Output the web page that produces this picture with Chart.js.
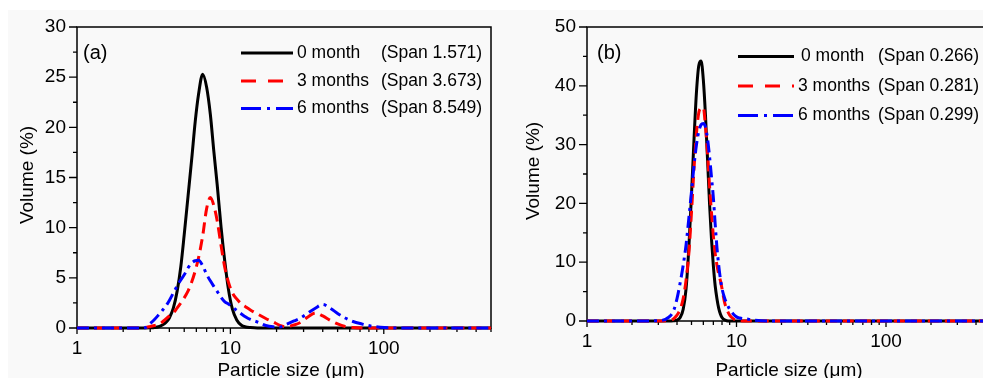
<!DOCTYPE html>
<html>
<head>
<meta charset="utf-8">
<script src="https://cdn.jsdelivr.net/npm/chart.js@4.4.1/dist/chart.umd.min.js"></script>
<style>
  html, body { margin: 0; padding: 0; background: #fff; overflow: hidden; }
  #sheet { position: absolute; left: 8px; top: 10px; width: 1000px; height: 400px; background: #f9f9f9; }
  canvas { position: absolute; top: 0; }
  #chartA { left: 0; }
  #chartB { left: 500px; }
</style>
</head>
<body>
<div id="sheet"></div>
<canvas id="chartA" width="500" height="378"></canvas>
<canvas id="chartB" width="520" height="378"></canvas>
<script>
// particle size distributions, volume % vs size (um)
const sizesA = [1, 2, 2.5, 2.8, 3.0, 3.2, 3.4, 3.6, 3.8, 4.0, 4.25, 4.5, 4.75, 5.0, 5.3, 5.6, 5.9, 6.2, 6.6, 7.0, 7.4, 7.8, 8.2, 8.7, 9.2, 9.7, 10.3, 11, 11.8, 12.6, 13.5, 15, 17, 19, 21, 23, 26, 29, 32, 36, 40, 45, 50, 56, 63, 72, 82, 95, 110, 150, 500];
const month0A = [0, 0, 0, 0, 0.02, 0.05, 0.12, 0.3, 0.55, 1.0, 2.0, 3.7, 6.1, 9.3, 13.2, 16.9, 20.6, 23.3, 25.3, 24.0, 21.3, 17.6, 14.3, 10.0, 6.6, 3.9, 1.9, 0.8, 0.27, 0.1, 0.04, 0, 0, 0, 0, 0, 0, 0, 0, 0, 0, 0, 0, 0, 0, 0, 0, 0, 0, 0, 0];
const month3A = [0, 0, 0, 0.05, 0.15, 0.25, 0.35, 0.6, 0.9, 1.2, 1.5, 2.0, 2.5, 3.0, 3.7, 4.6, 5.7, 7.0, 9.2, 11.9, 13.0, 12.2, 10.7, 8.2, 6.0, 4.6, 3.5, 2.9, 2.4, 2.1, 1.8, 1.4, 0.95, 0.6, 0.27, 0.12, 0.3, 0.6, 1.1, 1.5, 1.2, 0.75, 0.4, 0.15, 0.05, 0, 0, 0, 0, 0, 0];
const month6A = [0, 0, 0, 0.05, 0.45, 0.85, 1.3, 1.75, 2.2, 2.75, 3.5, 4.2, 4.8, 5.3, 6.0, 6.5, 6.7, 6.75, 6.2, 5.35, 4.7, 4.15, 3.65, 3.05, 2.6, 2.4, 2.1, 1.75, 1.4, 1.1, 0.85, 0.6, 0.25, 0.12, 0.1, 0.35, 0.7, 1.05, 1.5, 2.0, 2.35, 1.95, 1.45, 1.0, 0.65, 0.4, 0.2, 0.08, 0.02, 0, 0];

const sizesB = [1, 2, 3, 3.5, 3.8, 4.0, 4.2, 4.4, 4.6, 4.8, 5.0, 5.2, 5.4, 5.6, 5.8, 6.0, 6.2, 6.4, 6.6, 6.8, 7.0, 7.2, 7.4, 7.6, 7.8, 8.0, 8.3, 8.6, 9.0, 9.5, 10, 10.5, 11, 12, 13, 16, 500];
const month0B = [0, 0, 0, 0, 0.05, 0.15, 0.6, 2.0, 5.5, 12.5, 21.5, 31, 39, 43.5, 44.2, 41, 35, 27.5, 20, 14, 9.4, 6.0, 3.8, 2.2, 1.2, 0.6, 0.2, 0.05, 0, 0, 0, 0, 0, 0, 0, 0, 0];
const month3B = [0, 0, 0, 0.1, 0.4, 1.0, 2.0, 3.8, 7.0, 11.5, 18.5, 26, 32, 35.5, 36.2, 36.3, 33, 28.5, 23, 18.5, 14.5, 11.5, 9.5, 8.0, 6.9, 5.5, 3.3, 2.0, 1.0, 0.4, 0.15, 0.05, 0, 0, 0, 0, 0];
const month6B = [0, 0, 0.05, 0.6, 1.8, 3.8, 6.5, 9.5, 13.0, 17.5, 22, 26.5, 30, 32.3, 33.4, 33.6, 33, 31, 28, 24.5, 21, 16.5, 12.5, 9.5, 7.2, 5.5, 4.0, 3.0, 2.0, 1.2, 0.7, 0.5, 0.4, 0.3, 0.15, 0, 0];

const seriesNames = ['0 month', '3 months', '6 months'];
const spansA = ['(Span 1.571)', '(Span 3.673)', '(Span 8.549)'];
const spansB = ['(Span 0.266)', '(Span 0.281)', '(Span 0.299)'];

const xMajorTicks = [1, 10, 100];
const xMinorTicks = [2, 3, 4, 5, 6, 7, 8, 9, 20, 30, 40, 50, 60, 70, 80, 90, 200, 300, 400, 500];
const yMajorA = [0, 5, 10, 15, 20, 25, 30];
const yMinorA = [2.5, 7.5, 12.5, 17.5, 22.5, 27.5];
const yMajorB = [0, 10, 20, 30, 40, 50];
const yMinorB = [5, 15, 25, 35, 45];

const FONT = '"Liberation Sans", Arial, sans-serif';
const lineStyles = [
  { color: '#000000', dash: [], legendDash: [] },
  { color: '#ff0000', dash: [11, 6], legendDash: [15, 12] },
  { color: '#0000ff', dash: [12, 5, 3, 5], legendDash: [20, 6, 3, 6] }
];

function makeDatasets(sizes, seriesList) {
  return seriesList.map((vals, i) => ({
    label: seriesNames[i],
    data: sizes.map((s, k) => ({ x: s, y: vals[k] })),
    borderColor: lineStyles[i].color,
    borderWidth: 3,
    borderDash: lineStyles[i].dash,
    pointRadius: 0,
    cubicInterpolationMode: 'monotone',
    fill: false,
    clip: false,
    order: 2 - i
  }));
}

// frame, ticks, labels and legend drawn on top of the library scales
function panelPlugin(cfg) {
  return {
    id: 'panel',
    beforeDatasetsDraw(chart) {
      const ctx = chart.ctx;
      const a = chart.chartArea;
      const xs = chart.scales.x, ys = chart.scales.y;
      ctx.save();
      ctx.strokeStyle = '#000';
      ctx.lineWidth = 1.5;
      ctx.strokeRect(a.left, a.top, a.right - a.left, a.bottom - a.top);
      ctx.lineWidth = 1.3;
      ctx.beginPath();
      xMajorTicks.concat(xMinorTicks).forEach(v => {
        const px = xs.getPixelForValue(v);
        const len = xMajorTicks.includes(v) ? 6 : 4;
        ctx.moveTo(px, a.bottom);
        ctx.lineTo(px, a.bottom + len);
      });
      cfg.yMajor.concat(cfg.yMinor).forEach(v => {
        const py = ys.getPixelForValue(v);
        const len = cfg.yMajor.includes(v) ? 8 : 4;
        ctx.moveTo(a.left, py);
        ctx.lineTo(a.left - len, py);
      });
      ctx.stroke();
      ctx.restore();
    },
    afterDraw(chart) {
      const ctx = chart.ctx;
      const a = chart.chartArea;
      const xs = chart.scales.x, ys = chart.scales.y;
      ctx.save();
      ctx.fillStyle = '#000';
      ctx.font = '19px ' + FONT;
      ctx.textAlign = 'center';
      ctx.textBaseline = 'middle';
      xMajorTicks.forEach(v => ctx.fillText(String(v), xs.getPixelForValue(v), a.bottom + 21));
      ctx.textAlign = 'right';
      cfg.yMajor.forEach(v => ctx.fillText(String(v), a.left - 11, ys.getPixelForValue(v)));

      // axis titles
      ctx.textAlign = 'center';
      ctx.textBaseline = 'alphabetic';
      ctx.fillText('Particle size (\u03bcm)', cfg.xTitleX, 376);
      ctx.save();
      ctx.translate(cfg.yTitleX, cfg.yTitleY);
      ctx.rotate(-Math.PI / 2);
      ctx.textBaseline = 'middle';
      ctx.fillText('Volume (%)', 0, 0);
      ctx.restore();

      // panel tag
      ctx.font = '20px ' + FONT;
      ctx.textAlign = 'left';
      ctx.textBaseline = 'middle';
      ctx.fillText(cfg.tag, cfg.tagX, 53);

      // legend
      const lg = cfg.legend;
      ctx.font = '17.5px ' + FONT;
      lg.rows.forEach((y, i) => {
        ctx.save();
        ctx.strokeStyle = lineStyles[i].color;
        ctx.lineWidth = 3;
        ctx.setLineDash(lineStyles[i].legendDash);
        ctx.beginPath();
        ctx.moveTo(lg.x0, y);
        ctx.lineTo(lg.x1, y);
        ctx.stroke();
        ctx.restore();
        ctx.fillText(seriesNames[i], lg.textX[i], y);
        ctx.fillText(cfg.spans[i], lg.spanX, y);
      });
      ctx.restore();
    }
  };
}

function makeChart(id, sizes, seriesList, yMax, areaW, areaH, padRight, cfg) {
  return new Chart(document.getElementById(id), {
    type: 'line',
    data: { datasets: makeDatasets(sizes, seriesList) },
    options: {
      responsive: false,
      devicePixelRatio: 1,
      animation: false,
      events: [],
      layout: { padding: { left: 0, top: 27, right: padRight, bottom: 0 } },
      plugins: { legend: { display: false }, title: { display: false }, tooltip: { enabled: false } },
      scales: {
        x: {
          type: 'logarithmic',
          min: 1,
          max: 500,
          grid: { display: false, drawTicks: false },
          border: { display: false },
          ticks: { display: false },
          afterFit: s => { s.height = areaH; s.paddingLeft = 0; s.paddingRight = 0; }
        },
        y: {
          type: 'linear',
          min: 0,
          max: yMax,
          grid: { display: false, drawTicks: false },
          border: { display: false },
          ticks: { display: false },
          afterFit: s => { s.width = areaW; s.paddingTop = 0; s.paddingBottom = 0; }
        }
      }
    },
    plugins: [panelPlugin(cfg)]
  });
}

makeChart('chartA', sizesA, [month0A, month3A, month6A], 30, 77, 50, 9, {
  tag: '(a)', tagX: 83,
  yMajor: yMajorA, yMinor: yMinorA, spans: spansA,
  xTitleX: 291, yTitleX: 27.5, yTitleY: 175,
  legend: { x0: 241, x1: 293, textX: [297, 297, 297], spanX: 381, rows: [53, 81, 108.5] }
});

makeChart('chartB', sizesB, [month0B, month3B, month6B], 50, 87, 57, 29.5, {
  tag: '(b)', tagX: 97,
  yMajor: yMajorB, yMinor: yMinorB, spans: spansB,
  xTitleX: 289, yTitleX: 34, yTitleY: 171,
  legend: { x0: 238, x1: 294, textX: [301, 298, 298], spanX: 378, rows: [56.5, 86, 115.5] }
});
</script>
</body>
</html>
